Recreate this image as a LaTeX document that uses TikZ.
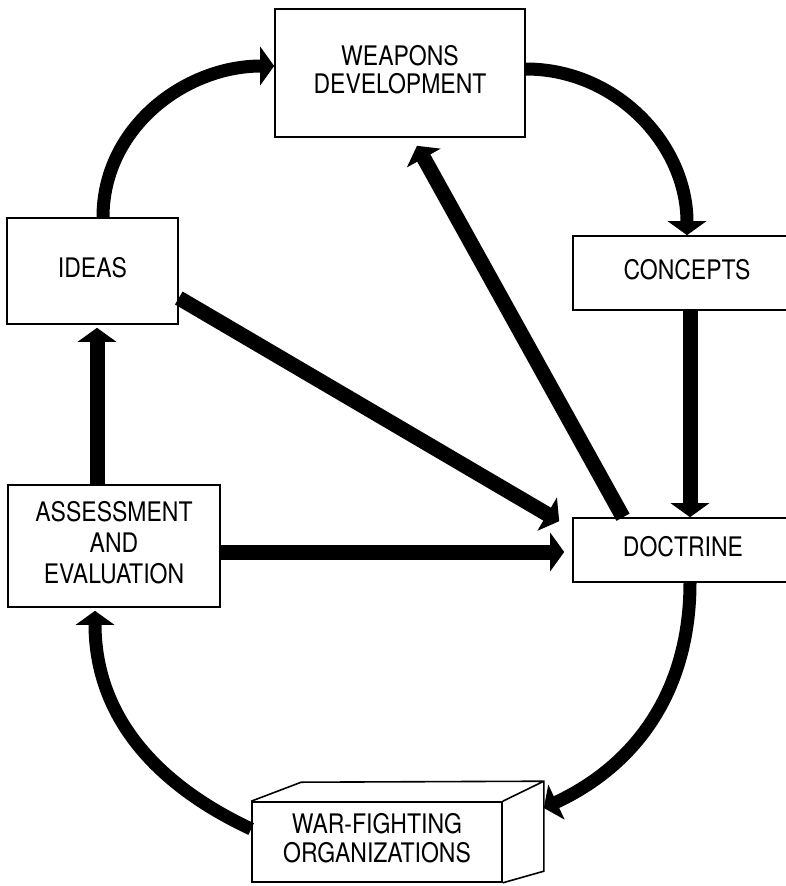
\documentclass[tikz,border=0pt]{standalone}
\usepackage{fontspec}
\setmainfont{TeX Gyre Heros}
\usetikzlibrary{arrows.meta}
\newcommand{\tallcaps}[1]{\scalebox{1}[1.17]{\begin{tabular}{@{}c@{}}#1\end{tabular}}}

\begin{document}
\begin{tikzpicture}[x=1pt, y=1pt,
    every node/.style={rectangle, draw, line width=1.6pt, align=center, inner sep=0pt, font=\fontsize{23}{21}\selectfont},
    flow/.style={line width=15pt, -{Triangle[width=38pt,length=14pt]}},
    curvedflow/.style={flow, line width=13pt}]
  \useasboundingbox (0,0) rectangle (785,-886);
  \node (wpn) at (400,-73) [minimum width=250pt, minimum height=128pt] {\tallcaps{WEAPONS\\DEVELOPMENT}};
  \node (ideas) at (92.5,-271) [minimum width=171pt, minimum height=106pt] {\tallcaps{IDEAS}};
  \node (conc) at (687,-273) [minimum width=228pt, minimum height=74pt] {\tallcaps{CONCEPTS}};
  \node (assess) at (114,-546) [minimum width=212pt, minimum height=122pt, font=\fontsize{23}{26.5}\selectfont] {\tallcaps{ASSESSMENT\\AND\\EVALUATION}};
  \node (doct) at (683,-550) [minimum width=220pt, minimum height=64pt] {\tallcaps{DOCTRINE}};
  \node (war) at (377,-842) [minimum width=250pt, minimum height=80pt, font=\fontsize{23}{23}\selectfont] {\tallcaps{WAR-FIGHTING\\ORGANIZATIONS}};
  \coordinate (back) at ([xshift=41pt,yshift=20pt]war.north east);
  \draw[line width=1.6pt] (war.north west) -- ++(50,19) -- (back) -- ++(0,-90) -- (war.south east)
    (war.north east) -- (back);
  \coordinate (c1) at ([xshift=3pt]conc.south);
  \coordinate (d1) at ([xshift=7pt]doct.north);
  \coordinate (i1) at ([yshift=-27pt]ideas.east);
  \coordinate (d2) at ([xshift=-13pt,yshift=-4pt]doct.north west);
  \coordinate (d3) at ([xshift=-60pt]doct.north);
  \coordinate (w1) at ([xshift=17pt,yshift=-8pt]wpn.south);
  \coordinate (a1) at ([yshift=-6pt]assess.east);
  \coordinate (d4) at ([xshift=-8pt,yshift=-2pt]doct.west);
  \coordinate (a2) at ([xshift=-17pt]assess.north);
  \coordinate (i2) at ([xshift=4.5pt,yshift=-3pt]ideas.south);
  \foreach \source/\dest in {c1/d1, i1/d2, d3/w1, a1/d4, a2/i2}
    \draw[flow] (\source) -- (\dest);
  \draw[curvedflow] ([xshift=10.5pt]ideas.north) to[out=90, in=180] ([yshift=7pt]wpn.west);
  \draw[curvedflow] ([yshift=4pt]wpn.east) to[out=0, in=90] (conc.north);
  \draw[curvedflow] ([xshift=7pt]doct.south) to[out=-90, in=25] ([xshift=41pt,yshift=34pt]war.east);
  \draw[curvedflow] ([yshift=13pt]war.west) to[out=155, in=-90] ([xshift=-19pt,yshift=-3pt]assess.south);
\end{tikzpicture}
\end{document}
